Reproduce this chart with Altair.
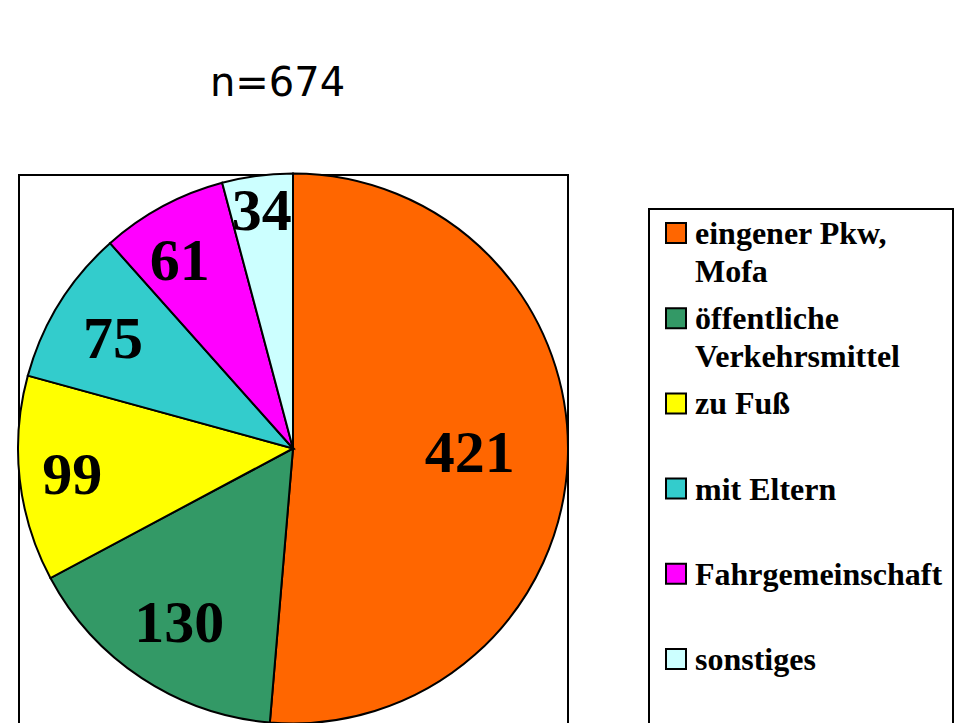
import math
import altair as alt
import pandas as pd

# ---- data ----
title_text = "n=674"
categories = ["eingener Pkw, Mofa", "öffentliche Verkehrsmittel", "zu Fuß",
              "mit Eltern", "Fahrgemeinschaft", "sonstiges"]
legend_labels = ["eingener Pkw,\nMofa", "öffentliche\nVerkehrsmittel", "zu Fuß",
                 "mit Eltern", "Fahrgemeinschaft", "sonstiges"]
values = [421, 130, 99, 75, 61, 34]
colors = ["#FF6600", "#339966", "#FFFF00", "#33CCCC", "#FF00FF", "#CCFFFF"]

df = pd.DataFrame({"cat": categories, "label": legend_labels, "value": values,
                   "idx": list(range(len(values)))})

# ---- layout constants ----
W, H = 946, 715
CX, CY, R = 285, 440.5, 275
# (label radius, dx, dy) per slice
label_pos = [(177, 0, -2), (207, 0, 3), (222, 0, 3), (212, 0, 3), (220, -9, 7), (241, 0, 2)]

theta_scale = alt.Scale(domain=[0, 1], range=[0, 2 * math.pi])
color_scale = alt.Scale(domain=categories, range=colors)

base = (
    alt.Chart(df)
    .transform_joinaggregate(total="sum(value)")
    .transform_window(cum="sum(value)", sort=[alt.SortField("idx")], frame=[None, 0])
    .transform_calculate(
        start="(datum.cum - datum.value) / datum.total",
        end="datum.cum / datum.total",
        mid="(datum.cum - datum.value / 2) / datum.total",
    )
)

one = pd.DataFrame({"a": [0]})

pie_frame = alt.Chart(one).mark_rect(fillOpacity=0, stroke="black", strokeWidth=2).encode(
    x=alt.value(11), x2=alt.value(560), y=alt.value(167), y2=alt.value(740)
)

arcs = base.mark_arc(radius=R, stroke="black", strokeWidth=2).encode(
    theta=alt.Theta("start:Q", scale=theta_scale),
    theta2="end:Q",
    color=alt.Color("cat:N", scale=color_scale, legend=None),
    x=alt.value(CX),
    y=alt.value(CY),
)

label_layers = []
for cat, (r, dx, dy) in zip(categories, label_pos):
    label_layers.append(
        base.transform_filter(alt.datum.cat == cat)
        .mark_text(radius=r, dx=dx, dy=dy, font="Liberation Serif", fontSize=60,
                   fontWeight="bold", color="black", align="center", baseline="middle")
        .encode(
            theta=alt.Theta("mid:Q", scale=theta_scale),
            text="value:Q",
            x=alt.value(CX),
            y=alt.value(CY),
        )
    )

legend_box = alt.Chart(one).mark_rect(fillOpacity=0, stroke="black", strokeWidth=2).encode(
    x=alt.value(641), x2=alt.value(945), y=alt.value(201), y2=alt.value(740)
)

legend_y = alt.Y("cat:N", scale=alt.Scale(type="point", domain=categories,
                                          range=[225, 651], padding=0), axis=None)

squares = alt.Chart(df).mark_square(size=400, stroke="black", strokeWidth=2, opacity=1).encode(
    x=alt.value(668),
    y=legend_y,
    color=alt.Color("cat:N", scale=color_scale, legend=None),
)

legend_text = alt.Chart(df).mark_text(
    align="left", baseline="top", dy=-14, lineBreak="\n", lineHeight=38,
    font="Liberation Serif", fontSize=32, fontWeight="bold", color="black"
).encode(x=alt.value(687), y=legend_y, text="label:N")

title = alt.Chart(pd.DataFrame({"t": [title_text]})).mark_text(
    font="DejaVu Sans", fontSize=40, align="center", baseline="alphabetic", color="black"
).encode(x=alt.value(269.5), y=alt.value(88), text="t:N")

chart = alt.layer(
    pie_frame, arcs, *label_layers, legend_box, squares, legend_text, title
).properties(
    width=W, height=H, autosize=alt.AutoSizeParams(type="none"), padding=0,
    background="white",
).configure_view(stroke=None)

chart.save("out.html", embed_options={"renderer": "svg", "actions": False})
